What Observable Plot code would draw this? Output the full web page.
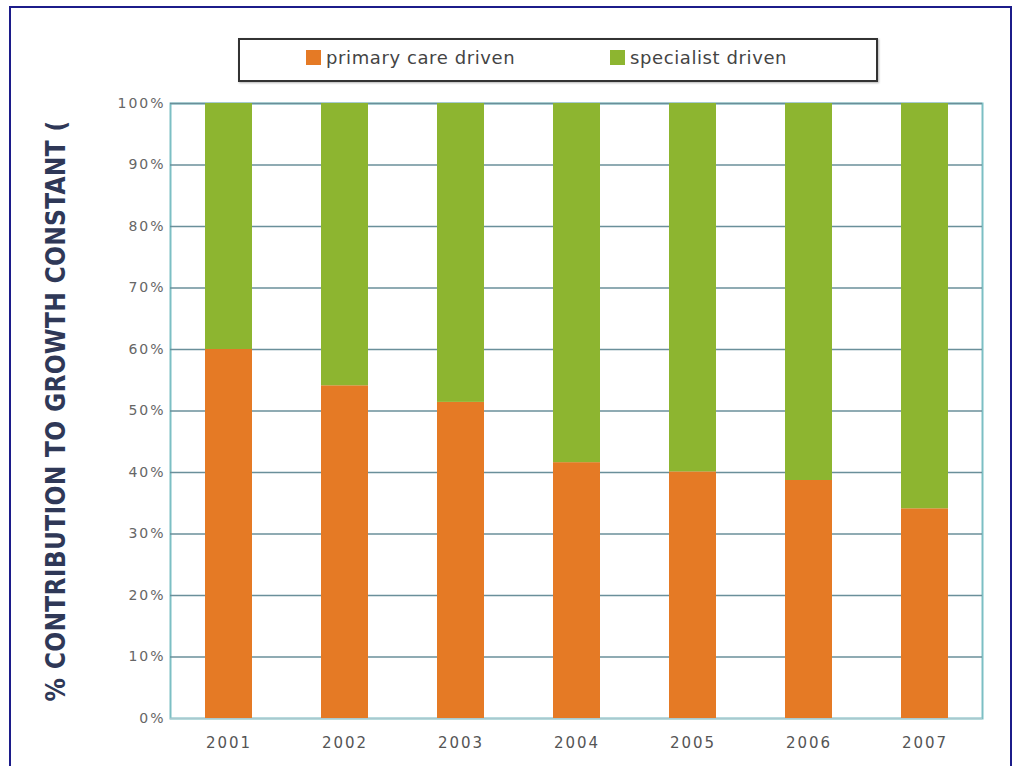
<!DOCTYPE html>
<html>
<head>
<meta charset="utf-8">
<script src="https://cdn.jsdelivr.net/npm/d3@7"></script>
<script src="https://cdn.jsdelivr.net/npm/@observablehq/plot@0.6"></script>
<style>
  html, body { margin: 0; padding: 0; background: #fff; }
  #wrap { position: relative; width: 1019px; height: 766px; overflow: hidden; font-family: "DejaVu Sans", sans-serif; }
  #frame { position: absolute; left: 9px; top: 6px; width: 1003px; height: 780px; border: 2px solid #1c1c8a; box-sizing: border-box; pointer-events: none; }
  #legend { position: absolute; left: 238px; top: 38px; width: 640px; height: 44px; border: 2px solid #333; box-sizing: border-box; background: #fff; box-shadow: 1px 1px 2px rgba(0,0,0,0.3); font-family: "DejaVu Sans", sans-serif; font-size: 18px; letter-spacing: 0.6px; color: #444; }
  .item { position: absolute; top: 7px; display: flex; align-items: center; }
  .sw { width: 15px; height: 15px; margin-right: 5px; }
  #chart { position: absolute; left: 0; top: 0; }
  #chart g[aria-label="y-axis label"] text { font-family: "DejaVu Sans Condensed", "Liberation Sans Narrow", sans-serif; font-weight: bold; font-size: 26px; fill: #2f3857; letter-spacing: 0.3px; }
  #chart g[aria-label="y-axis tick label"] text, #chart g[aria-label="x-axis tick label"] text { letter-spacing: 2px; }
</style>
</head>
<body>
<div id="wrap">
  <div id="chart"></div>
  <div id="legend">
    <div class="item" style="left:66px"><span class="sw" style="background:#e57a25"></span>primary care driven</div>
    <div class="item" style="left:370px"><span class="sw" style="background:#8db530"></span>specialist driven</div>
  </div>
  <div id="frame"></div>
</div>
<script>
const years = ["2001", "2002", "2003", "2004", "2005", "2006", "2007"];
const primaryCare = [60.0, 54.1, 51.4, 41.6, 40.1, 38.7, 34.1];
const specialist = [40.0, 45.9, 48.6, 58.4, 59.9, 61.3, 65.9];
const seriesNames = ["primary care driven", "specialist driven"];
const seriesColors = ["#e57a25", "#8db530"];
const yTicks = [0, 10, 20, 30, 40, 50, 60, 70, 80, 90, 100];

const data = [];
years.forEach((y, i) => {
  data.push({year: y, series: seriesNames[0], value: primaryCare[i]});
  data.push({year: y, series: seriesNames[1], value: specialist[i]});
});

const chart = Plot.plot({
  width: 1019,
  height: 766,
  marginLeft: 170,
  marginRight: 37,
  marginTop: 103,
  marginBottom: 48,
  style: {fontFamily: "DejaVu Sans, sans-serif", fontSize: "14px", color: "#666", background: "transparent"},
  x: {domain: years, paddingInner: 0.595, paddingOuter: 0.2975, label: null},
  y: {domain: [0, 100], ticks: yTicks, label: "% CONTRIBUTION TO GROWTH CONSTANT (", labelAnchor: "center"},
  color: {domain: seriesNames, range: seriesColors},
  marks: [
    Plot.frame({stroke: "#7cbfc4", strokeWidth: 2}),
    Plot.ruleY(yTicks.slice(1), {stroke: "#6a8f9a", strokeWidth: 1.6}),
    Plot.ruleY([0], {stroke: "#a9c9cf", strokeWidth: 1.5}),
    Plot.barY(data, {x: "year", y: "value", fill: "series", order: seriesNames}),
    Plot.axisX({tickSize: 0, tickPadding: 19, fontSize: 15, fill: "#555", label: null}),
    Plot.axisY({ticks: yTicks, tickSize: 0, tickPadding: 5, tickFormat: d => d + "%", fill: "#666", fontSize: 14,
      label: "% CONTRIBUTION TO GROWTH CONSTANT (", labelAnchor: "center", labelOffset: 124, labelArrow: "none"})
  ]
});
document.getElementById("chart").appendChild(chart);
</script>
</body>
</html>
